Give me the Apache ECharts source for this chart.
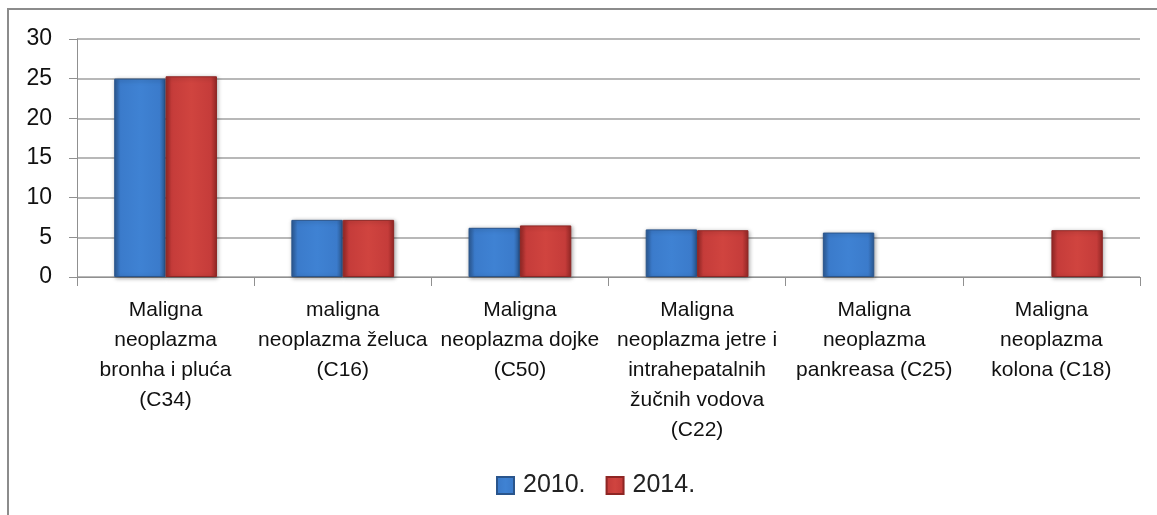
<!DOCTYPE html>
<html>
<head>
<meta charset="utf-8">
<script src="https://cdn.jsdelivr.net/npm/echarts@6/dist/echarts.min.js"></script>
<style>
  html, body { margin: 0; padding: 0; background: #fff; }
  #chart { width: 1157px; height: 515px; }
</style>
</head>
<body>
<div id="chart"></div>
<script>
// categories (line breaks as in the original labels)
const categories = [
  'Maligna\nneoplazma\nbronha i pluća\n(C34)',
  'maligna\nneoplazma želuca\n(C16)',
  'Maligna\nneoplazma dojke\n(C50)',
  'Maligna\nneoplazma jetre i\nintrahepatalnih\nžučnih vodova\n(C22)',
  'Maligna\nneoplazma\npankreasa (C25)',
  'Maligna\nneoplazma\nkolona (C18)'
]
const seriesNames = ['2010.', '2014.']
const values2010 = [25, 7.2, 6.2, 6.0, 5.6, null]
const values2014 = [25.3, 7.2, 6.5, 5.9, null, 5.9]
const yTicks = [0, 5, 10, 15, 20, 25, 30]

const chart = echarts.init(document.getElementById('chart'))

// bevel-like gradient for the bars
function barGradient(edge, mid, light) {
  return new echarts.graphic.LinearGradient(0, 0, 1, 0, [
    { offset: 0, color: edge },
    { offset: 0.12, color: mid },
    { offset: 0.5, color: light },
    { offset: 0.88, color: mid },
    { offset: 1, color: edge }
  ])
}
const blueFill = barGradient('#2c5a94', '#3b7bcb', '#3f82d3')
const redFill = barGradient('#962826', '#c53c3a', '#d0443f')

const font = '"Liberation Sans", Arial, sans-serif'

const option = {
  backgroundColor: '#fff',
  animation: false,
  graphic: [
    {
      type: 'rect',
      shape: { x: 8, y: 9, width: 1200, height: 560 },
      style: { fill: 'none', stroke: '#8c8c8c', lineWidth: 2 },
      silent: true
    }
  ],
  grid: {
    left: 77,
    right: 17,
    top: 39,
    bottom: 238,
    containLabel: false
  },
  legend: {
    data: seriesNames,
    left: 491,
    top: 468,
    itemWidth: 17,
    itemHeight: 17,
    itemGap: 20,
    icon: 'rect',
    textStyle: { fontFamily: font, fontSize: 25, color: '#222', padding: [0, 0, 0, 4] }
  },
  xAxis: {
    type: 'category',
    data: categories,
    axisLine: { lineStyle: { color: '#909090', width: 1 } },
    axisTick: { show: true, length: 9, lineStyle: { color: '#909090' } },
    axisLabel: {
      interval: 0,
      margin: 18,
      fontFamily: font,
      fontSize: 21,
      lineHeight: 30,
      color: '#111',
      align: 'center'
    },
    splitLine: { show: false }
  },
  yAxis: {
    type: 'value',
    min: yTicks[0],
    max: yTicks[yTicks.length - 1],
    interval: 5,
    axisLine: { show: true, lineStyle: { color: '#909090', width: 1 } },
    axisTick: { show: true, length: 8, lineStyle: { color: '#909090' } },
    axisLabel: {
      margin: 25,
      fontFamily: font,
      fontSize: 23,
      color: '#111'
    },
    splitLine: { lineStyle: { color: '#a0a0a0', width: 1.5 } }
  },
  series: [
    {
      name: seriesNames[0],
      type: 'bar',
      data: values2010,
      barGap: '0%',
      barCategoryGap: '42%',
      itemStyle: {
        color: blueFill,
        borderColor: '#2a558c',
        borderWidth: 1,
        shadowColor: 'rgba(0,0,0,0.35)',
        shadowBlur: 4,
        shadowOffsetX: 1,
        shadowOffsetY: 1
      }
    },
    {
      name: seriesNames[1],
      type: 'bar',
      data: values2014,
      barGap: '0%',
      barCategoryGap: '42%',
      itemStyle: {
        color: redFill,
        borderColor: '#8e2624',
        borderWidth: 1,
        shadowColor: 'rgba(0,0,0,0.35)',
        shadowBlur: 4,
        shadowOffsetX: 1,
        shadowOffsetY: 1
      }
    }
  ]
}

chart.setOption(option)
</script>
</body>
</html>
